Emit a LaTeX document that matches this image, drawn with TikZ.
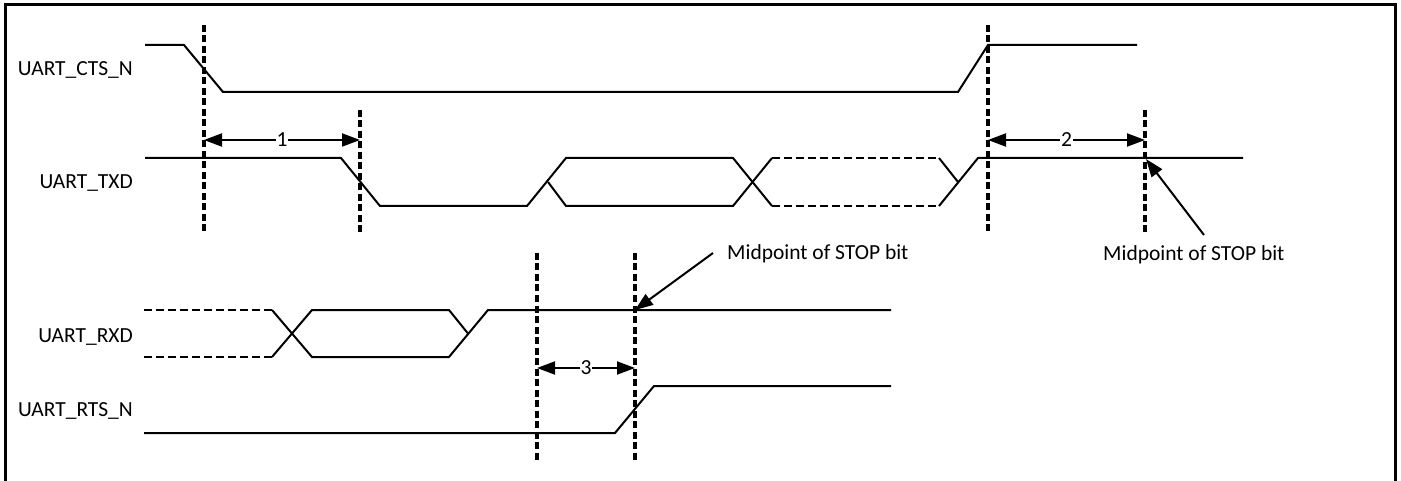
\documentclass[tikz,border=0pt]{standalone}
\usepackage{fontspec}
\setmainfont{Carlito}
\usepackage{tikz}
\usetikzlibrary{arrows.meta}
\tikzset{
  sig/.style={line width=2pt, line join=miter},
  busdash/.style={sig, dash pattern=on 8pt off 4pt},
  marker/.style={line width=3.2pt, dash pattern=on 7pt off 3.5pt},
  dimarrow/.style={line width=2pt, {Triangle[length=18pt,width=13pt]}-{Triangle[length=18pt,width=13pt]}},
  callout/.style={line width=2pt, -{Triangle[length=18pt,width=13pt]}},
  siglabel/.style={anchor=base east, inner sep=0pt},
  dimlabel/.style={fill=white, inner sep=1pt},
}

\begin{document}
\begin{tikzpicture}[x=1pt, y=-1pt, font=\fontsize{21.5}{25}\selectfont]
      \useasboundingbox (0,0) rectangle (1401,481);
      \draw[line width=3pt] (5,481) -- (5,5) -- (1395.5,5) -- (1395.5,481);

      \node[siglabel] (cts) at (133,76) {UART\_CTS\_N};
      \node[siglabel] (txd) at (133,189) {UART\_TXD};
      \node[siglabel] (rxd) at (133,342) {UART\_RXD};
      \node[siglabel] (rts) at (133,416) {UART\_RTS\_N};

      % signals
      \draw[sig] (145,45) -- (184,45) -- (223,92) -- (958,92) -- (988,45) -- (1137,45);

      \draw[sig] (145,158) -- (341,158) -- (380,206) -- (527,206) -- (566,158) -- (733,158) -- (772,206);
      \draw[sig] (548,182) -- (566,206) -- (733,206) -- (772,158);
      \draw[busdash] (772,158) -- (939,158);
      \draw[busdash] (772,206) -- (939,206);
      \draw[sig] (939,158) -- (958,182);
      \draw[sig] (939,206) -- (978,158) -- (1243,158);

      \draw[busdash] (144,310) -- (272,310);
      \draw[busdash] (144,357) -- (272,357);
      \draw[sig] (272,310) -- (312,357) -- (449,357) -- (488,310) -- (891,310);
      \draw[sig] (272,357) -- (312,310) -- (449,310) -- (468,333.5);

      \draw[sig] (144,433) -- (615,433) -- (654,386) -- (891,386);

      % timing markers
      \foreach \n/\x/\ya/\yb in {m1/204/25/235, m2/360/110/232, m3/988/25/235,
                                 m4/1145/110/232, m5/537/253/462, m6/635/253/462} {
        \coordinate (\n t) at (\x,\ya);
        \coordinate (\n b) at (\x,\yb);
        \draw[marker] (\n t) -- (\n b);
      }

      \coordinate (d1a) at (204,140);  \coordinate (d1b) at (360,140);
      \coordinate (d2a) at (988,140);  \coordinate (d2b) at (1145,140);
      \coordinate (d3a) at (537,368);  \coordinate (d3b) at (635,368);
      \draw[dimarrow] (d1a) -- node[dimlabel] (t1) {1} (d1b);
      \draw[dimarrow] (d2a) -- node[dimlabel] (t2) {2} (d2b);
      \draw[dimarrow] (d3a) -- node[dimlabel] (t3) {3} (d3b);

      \node[anchor=base west, inner sep=0pt] (stop1) at (727,260) {Midpoint of STOP bit};
      \node[anchor=base west, inner sep=0pt] (stop2) at (1103,261) {Midpoint of STOP bit};
      \coordinate (s1from) at (713,253);  \coordinate (s1to) at (635,310);
      \coordinate (s2from) at (1204,235); \coordinate (s2to) at (1146,159);
      \draw[callout] (s1from) -- (s1to);
      \draw[callout] (s2from) -- (s2to);
    \end{tikzpicture}
\end{document}
